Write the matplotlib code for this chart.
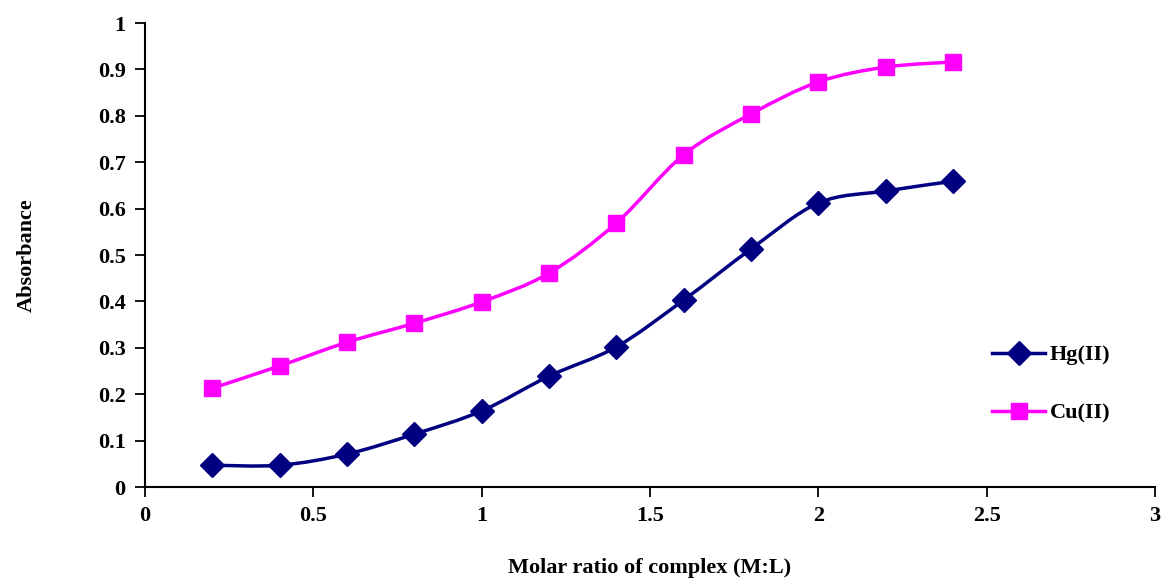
import matplotlib
matplotlib.use("Agg")
import matplotlib.pyplot as plt
from matplotlib.path import Path
from matplotlib.patches import PathPatch
from matplotlib.ticker import FuncFormatter, MultipleLocator

# molar ratio (M:L) and absorbance readings
ratio = [0.2, 0.4, 0.6, 0.8, 1.0, 1.2, 1.4, 1.6, 1.8, 2.0, 2.2, 2.4]
hg = [0.047, 0.047, 0.071, 0.114, 0.164, 0.239, 0.302, 0.403, 0.513, 0.612, 0.638, 0.659]
cu = [0.213, 0.261, 0.312, 0.353, 0.399, 0.461, 0.569, 0.716, 0.804, 0.873, 0.905, 0.916]

plt.rcParams["font.family"] = ["Liberation Serif", "DejaVu Serif"]
plt.rcParams["font.weight"] = "bold"


def _smooth_path(xs, ys):
    # Excel-like smoothed line: cubic bezier through each point
    n = len(xs)
    verts = [(xs[0], ys[0])]
    codes = [Path.MOVETO]
    for i in range(n - 1):
        x0, y0 = xs[max(i - 1, 0)], ys[max(i - 1, 0)]
        x1, y1 = xs[i], ys[i]
        x2, y2 = xs[i + 1], ys[i + 1]
        x3, y3 = xs[min(i + 2, n - 1)], ys[min(i + 2, n - 1)]
        c1 = (x1 + (x2 - x0) / 6, y1 + (y2 - y0) / 6)
        c2 = (x2 - (x3 - x1) / 6, y2 - (y3 - y1) / 6)
        verts += [c1, c2, (x2, y2)]
        codes += [Path.CURVE4] * 3
    return Path(verts, codes)


fig = plt.figure(figsize=(11.64, 5.78), dpi=100)
ax = fig.add_axes([0.1246, 0.1574, 0.8677, 0.8028])

series = [
    (hg, "#000080", "D", 12.5, "Hg(II)"),
    (cu, "#FF00FF", "s", 12, "Cu(II)"),
]
for ys, color, marker, ms, label in series:
    ax.add_patch(PathPatch(_smooth_path(ratio, ys), facecolor="none",
                           edgecolor=color, lw=2.5, zorder=2))
    ax.plot(ratio, ys, linestyle="none", marker=marker, ms=ms, color=color, zorder=3)
    ax.plot([], [], color=color, lw=2.5, marker=marker, ms=ms, label=label)

ax.set_xlim(0, 3)
ax.set_ylim(0, 1)
ax.xaxis.set_major_locator(MultipleLocator(0.5))
ax.yaxis.set_major_locator(MultipleLocator(0.1))
fmt = FuncFormatter(lambda v, p: f"{v:.1f}".rstrip("0").rstrip("."))
ax.xaxis.set_major_formatter(fmt)
ax.yaxis.set_major_formatter(fmt)

for side in ("top", "right"):
    ax.spines[side].set_visible(False)
for side in ("left", "bottom"):
    ax.spines[side].set_linewidth(1.5)
ax.tick_params(direction="out", length=7, width=1.3, labelsize=16, pad=7)

ax.set_xlabel("Molar ratio of complex (M:L)", fontsize=16, fontweight="bold", labelpad=23)
ax.set_ylabel("Absorbance", fontsize=16, fontweight="bold", labelpad=44)

fig.legend(loc="center left", bbox_to_anchor=(0.835, 0.335), frameon=False,
           fontsize=16, handlelength=2.4, labelspacing=1.7, handletextpad=0.2)

fig.savefig("out.png", dpi=100)
